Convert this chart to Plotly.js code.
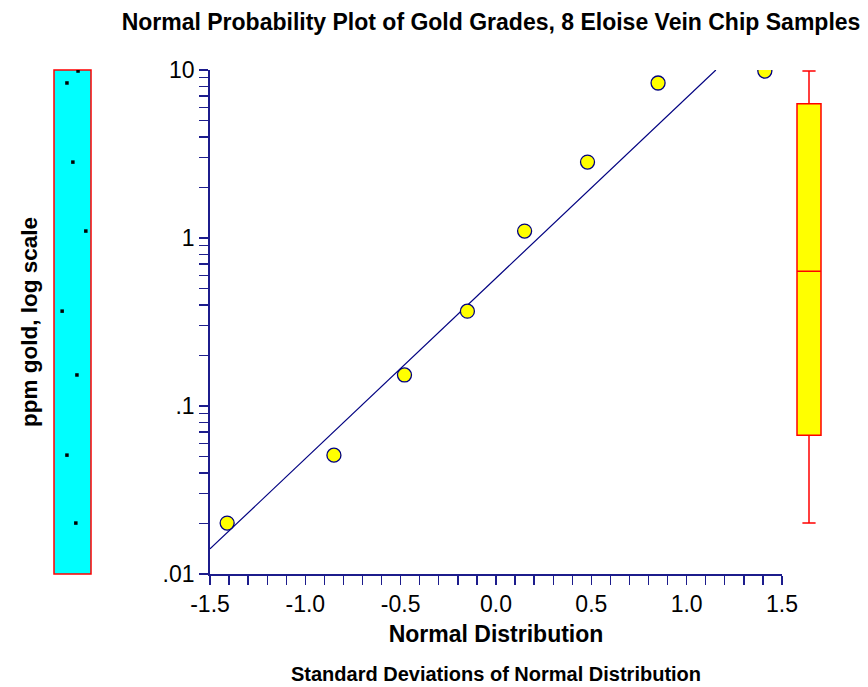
<!DOCTYPE html>
<html>
<head>
<meta charset="utf-8">
<script src="https://cdn.plot.ly/plotly-3.0.1.min.js"></script>
<style>html,body{margin:0;padding:0;background:#fff;}#chart{width:868px;height:687px;}</style>
</head>
<body>
<div id="chart"></div>
<script>
// ---- data ----
var normalScores = [-1.41, -0.85, -0.48, -0.15, 0.15, 0.48, 0.85, 1.41];
var goldPpm      = [0.0201, 0.051, 0.153, 0.367, 1.10, 2.83, 8.37, 9.86];
var stripJitter  = [0.59, 0.35, 0.62, 0.22, 0.86, 0.51, 0.35, 0.65];
var fitX = [-1.5, 1.153];
var fitY = [0.0141, 10];
var boxQ1 = [0.067], boxMedian = [0.635], boxQ3 = [6.3];
var boxLow = [0.0201], boxHigh = [9.86];
var xTickVals = [-1.5,-1.4,-1.3,-1.2,-1.1,-1.0,-0.9,-0.8,-0.7,-0.6,-0.5,-0.4,-0.3,-0.2,-0.1,0,0.1,0.2,0.3,0.4,0.5,0.6,0.7,0.8,0.9,1.0,1.1,1.2,1.3,1.4,1.5];
var xTickText = ['-1.5','','','','','-1.0','','','','','-0.5','','','','','0.0','','','','','0.5','','','','','1.0','','','','','1.5'];
var yTickVals = [0.01,0.02,0.03,0.04,0.05,0.06,0.07,0.08,0.09,0.1,0.2,0.3,0.4,0.5,0.6,0.7,0.8,0.9,1,2,3,4,5,6,7,8,9,10];
var yTickText = ['.01','','','','','','','','','.1','','','','','','','','','1','','','','','','','','','10'];

var W = 868, H = 687;
var navy = '#1c1c8c';
var font = 'Arial, "Liberation Sans", sans-serif';

var traces = [
  { type:'scatter', mode:'lines', x: fitX, y: fitY, xaxis:'x', yaxis:'y',
    line:{color:'#000080', width:1.2}, hoverinfo:'skip', showlegend:false },
  { type:'scatter', mode:'markers', x: normalScores, y: goldPpm, xaxis:'x', yaxis:'y',
    marker:{color:'#FFFF00', size:14, line:{color:'#000080', width:1.3}}, showlegend:false },
  { type:'scatter', mode:'markers', x: stripJitter, y: goldPpm, xaxis:'x2', yaxis:'y',
    marker:{color:'#000000', size:3.5, symbol:'square'}, showlegend:false },
  { type:'box', x:[0], q1: boxQ1, median: boxMedian, q3: boxQ3, lowerfence: boxLow, upperfence: boxHigh,
    xaxis:'x3', yaxis:'y', width:1.2, whiskerwidth:0.55, boxpoints:false,
    fillcolor:'#FFFF00', line:{color:'#FF0000', width:1.5}, showlegend:false }
];

function px(x){ return x / W; }
function py(y){ return 1 - y / H; }

var layout = {
  width: W, height: H,
  margin:{l:0, r:0, t:0, b:0},
  paper_bgcolor:'#ffffff', plot_bgcolor:'rgba(0,0,0,0)',
  font:{family:font, color:'#000'},
  showlegend:false,
  title:{text:'<b>Normal Probability Plot of Gold Grades, 8 Eloise Vein Chip Samples</b>',
         font:{size:23, family:font, color:'#000'}, xref:'paper', x: px(491), xanchor:'center',
         yref:'container', y: 1 - 22/H, yanchor:'middle'},
  xaxis:{ domain:[px(210), px(782)], range:[-1.5, 1.5], anchor:'y',
          tickmode:'array', tickvals: xTickVals, ticktext: xTickText,
          ticks:'outside', ticklen:9, tickwidth:1.3, tickcolor:navy,
          showline:true, linecolor:navy, linewidth:1.8, showgrid:false, zeroline:false,
          tickfont:{size:23, family:font, color:'#000'},
          title:{text:'<b>Normal Distribution</b>', font:{size:23, family:font, color:'#000'}, standoff:9} },
  yaxis:{ domain:[py(574), py(70)], type:'log', range:[-2, 1], anchor:'x',
          tickmode:'array', tickvals: yTickVals, ticktext: yTickText,
          ticks:'outside', ticklen:9, tickwidth:1.3, tickcolor:navy,
          showline:true, linecolor:navy, linewidth:1.8, showgrid:false, zeroline:false,
          tickfont:{size:23, family:font, color:'#000'},
          title:{text:'<b>ppm gold, log scale</b>', font:{size:22.5, family:font, color:'#000'}, standoff:119} },
  xaxis2:{ domain:[px(54), px(91)], range:[0, 1], anchor:'y', showline:false, showgrid:false,
           zeroline:false, showticklabels:false, ticks:'' },
  xaxis3:{ domain:[px(789), px(829)], range:[-1, 1], anchor:'y', showline:false, showgrid:false,
           zeroline:false, showticklabels:false, ticks:'' },
  shapes:[
    { type:'rect', xref:'x2 domain', yref:'y domain', x0:0, x1:1, y0:0, y1:1,
      fillcolor:'#00FFFF', line:{color:'#FF0000', width:1.5}, layer:'below' }
  ],
  annotations:[
    { text:'<b>Standard Deviations of Normal Distribution</b>', xref:'paper', yref:'paper',
      x: px(496), y: py(674), xanchor:'center', yanchor:'middle', showarrow:false,
      font:{size:20, family:font, color:'#000'} }
  ]
};

Plotly.newPlot('chart', traces, layout, {displayModeBar:false, staticPlot:true});
</script>
</body>
</html>
